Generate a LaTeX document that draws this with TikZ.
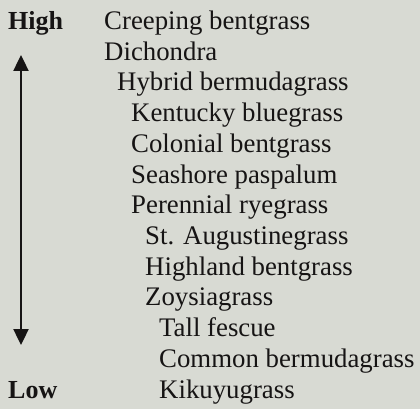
\documentclass[tikz,border=0pt]{standalone}
\usepackage{fontspec}
\setmainfont{Liberation Serif}
\usetikzlibrary{arrows.meta}
\definecolor{bg}{RGB}{216,218,211}
\definecolor{ink}{RGB}{22,20,20}
\begin{document}
\begin{tikzpicture}[x=1pt,y=-1pt,
  item/.style={anchor=base west,inner sep=0pt,text=ink,font=\fontsize{26.8}{30}\selectfont},
  lab/.style={anchor=base west,inner sep=0pt,text=ink,font=\fontsize{26}{30}\selectfont\bfseries},
  scale arrow/.style={draw=ink,line width=2.4pt,{Triangle[length=16pt,width=15pt]}-{Triangle[length=16pt,width=15pt]}}]
\fill[bg] (0,0) rectangle (420,409);
\useasboundingbox (0,0) rectangle (420,409);
\node[lab] (high) at (8,29.5) {High};
\node[lab] (low) at (8,398.3) {Low};
\node[item] (g1) at (104,29.5) {Creeping bentgrass};
\node[item] (g2) at (104,60.2) {Dichondra};
\node[item] (g3) at (117,90.9) {Hybrid bermudagrass};
\node[item] (g4) at (131,121.6) {Kentucky bluegrass};
\node[item] (g5) at (131,152.3) {Colonial bentgrass};
\node[item] (g6) at (131,183.0) {Seashore paspalum};
\node[item] (g7) at (131,213.7) {Perennial ryegrass};
\node[item] (g8) at (145,244.4) {St. Augustinegrass};
\node[item] (g9) at (145,275.1) {Highland bentgrass};
\node[item] (g10) at (145,305.8) {Zoysiagrass};
\node[item] (g11) at (159,336.5) {Tall fescue};
\node[item] (g12) at (159,367.2) {Common bermudagrass};
\node[item] (g13) at (159,398.3) {Kikuyugrass};
\coordinate (top) at (21,55);
\coordinate (bot) at (21,345);
\draw[scale arrow] (top) -- (bot);
\end{tikzpicture}
\end{document}
